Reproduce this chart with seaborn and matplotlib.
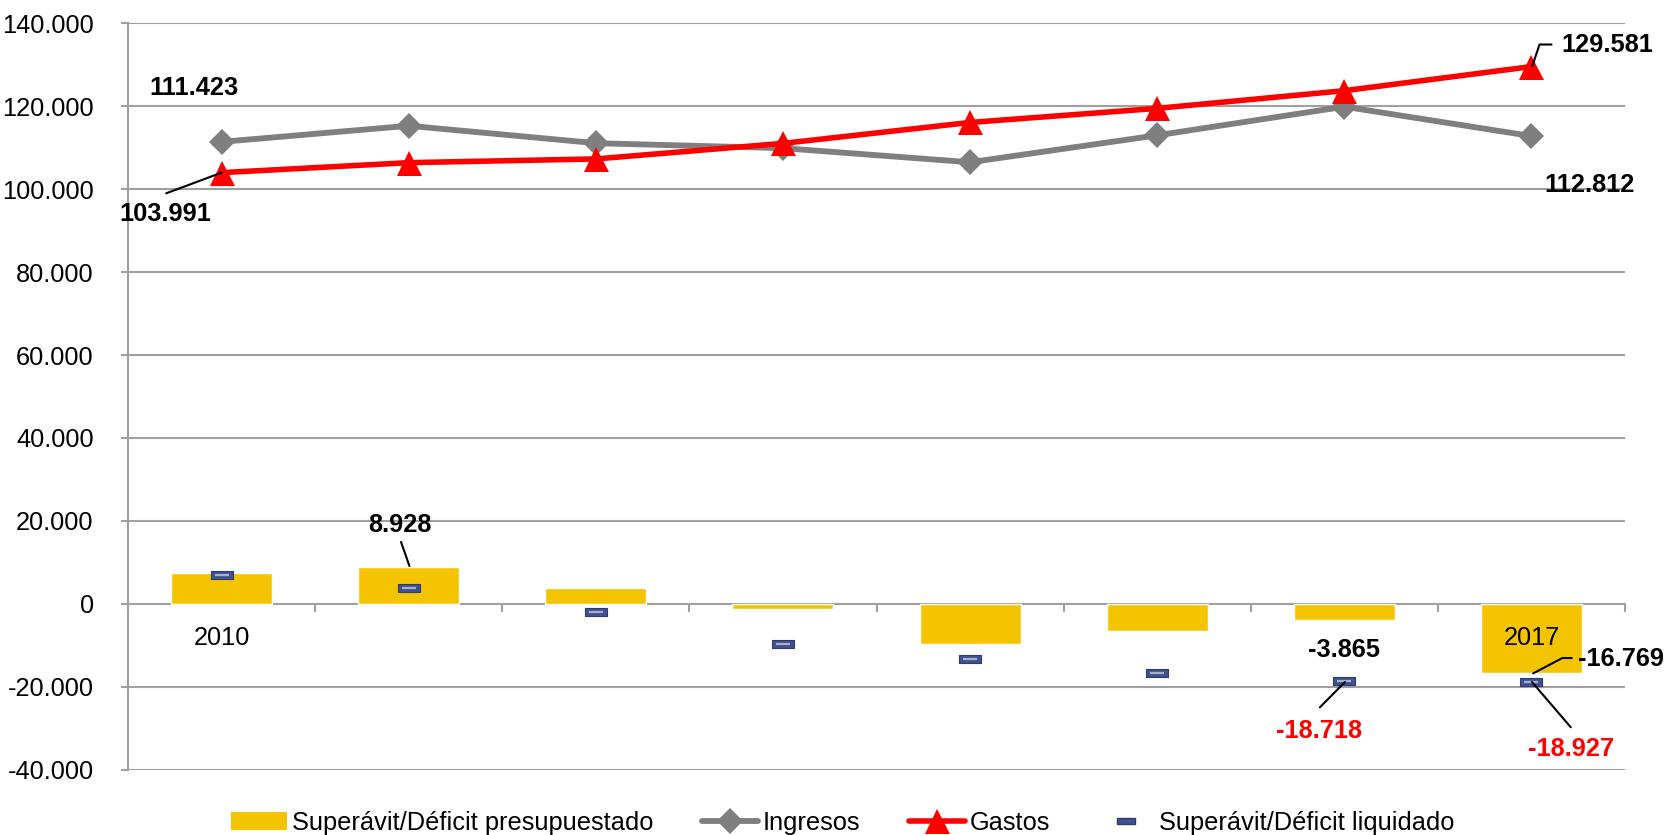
import numpy as np
import pandas as pd
import seaborn as sns
from matplotlib import pyplot as plt
from matplotlib.lines import Line2D
from matplotlib.patches import Patch
from matplotlib.ticker import FuncFormatter

# datos (miles de euros)
years = ['2010', '2011', '2012', '2013', '2014', '2015', '2016', '2017']
ingresos = [111423, 115300, 111100, 109900, 106500, 113000, 119900, 112812]
gastos = [103991, 106400, 107300, 111050, 116100, 119500, 123765, 129581]
presupuestado = [7432, 8928, 3800, -1250, -9600, -6500, -3865, -16769]
liquidado = [6900, 3800, -2000, -9700, -13400, -16600, -18718, -18927]

YELLOW = '#F5C400'
GREY = '#7F7F7F'
RED = '#FF0000'
BLUE = '#3F5190'
GRID = '#A0A0A0'
FS = 18.3

sns.set_theme(style='white')
plt.rcParams['font.family'] = ['Liberation Sans', 'DejaVu Sans']
plt.rcParams['text.color'] = 'black'

df = pd.DataFrame({'year': years, 'pos': np.arange(len(years)),
                   'ingresos': ingresos, 'gastos': gastos,
                   'presupuestado': presupuestado, 'liquidado': liquidado})

fig = plt.figure(figsize=(16.71, 8.35), dpi=100)
ax = fig.add_axes([0.0766, 0.0784, 0.8959, 0.8936])

for v in range(-40000, 140001, 20000):
    if v != 0:
        ax.axhline(v, color=GRID, lw=1.5, zorder=0)

sns.barplot(data=df, x='year', y='presupuestado', color=YELLOW, saturation=1,
            width=0.54, ax=ax, zorder=2)

sns.lineplot(data=df, x='pos', y='ingresos', color=GREY, lw=4.2, marker='D',
             markersize=13.5, markeredgewidth=0, ax=ax, zorder=4)
sns.lineplot(data=df, x='pos', y='gastos', color=RED, lw=4.0, marker='^',
             markersize=18, markeredgewidth=0, ax=ax, zorder=5)

rect = [(-1, -0.38), (1, -0.38), (1, 0.38), (-1, 0.38), (-1, -0.38)]
sns.scatterplot(data=df, x='pos', y='liquidado', marker=rect, s=240, color=BLUE,
                edgecolor='#2E3C70', linewidth=0.8, ax=ax, zorder=6)
sns.scatterplot(data=df, x='pos', y='liquidado', marker='_', s=110, color='#A9AFC4',
                linewidth=1.6, ax=ax, zorder=7)

ax.set_xlim(-0.5, 7.5)
ax.set_ylim(-40000, 140000)
ax.set_xlabel('')
ax.set_ylabel('')

ax.set_yticks(range(-40000, 140001, 20000))
ax.yaxis.set_major_formatter(FuncFormatter(lambda v, p: f'{int(v):,}'.replace(',', '.')))
ax.set_xticks(np.arange(-0.5, 7.6, 1))
ax.set_xticklabels([])
ax.tick_params(axis='y', labelsize=FS, labelcolor='black', length=4.7, width=1.5,
               color=GRID, pad=20, left=True)
ax.tick_params(axis='x', length=6, width=1.5, color=GRID, bottom=True, direction='out')

for s in ['top', 'right']:
    ax.spines[s].set_visible(False)
ax.spines['left'].set_color(GRID)
ax.spines['left'].set_linewidth(1.5)
ax.spines['bottom'].set_position(('data', 0))
ax.spines['bottom'].set_color(GRID)
ax.spines['bottom'].set_linewidth(1.5)
ax.spines['bottom'].set_zorder(1)

# etiquetas de años
ax.text(0, -8300, '2010', ha='center', va='center', fontsize=FS)
ax.text(7, -8300, '2017', ha='center', va='center', fontsize=FS)

bold = dict(fontsize=FS, fontweight='bold', va='center')
lead = dict(color='black', lw=1.5, zorder=8)

ax.text(-0.15, 124300, '111.423', ha='center', **bold)
ax.text(-0.30, 94000, '103.991', ha='center', **bold)
ax.plot([-0.296, 0.0], [99000, 104000], **lead)

ax.text(7.158, 134700, '129.581', ha='left', **bold)
ax.plot([7.004, 7.043, 7.107], [129700, 134900, 134900], **lead)
ax.text(7.31, 100900, '112.812', ha='center', **bold)

ax.text(0.954, 18900, '8.928', ha='center', **bold)
ax.plot([0.959, 1.004], [14900, 9100], **lead)

ax.text(6.0, -11100, '-3.865', ha='center', **bold)
ax.text(7.25, -13300, '-16.769', ha='left', **bold)
ax.plot([7.009, 7.165, 7.215], [-16800, -13100, -13100], **lead)

ax.text(5.863, -30700, '-18.718', ha='center', color=RED, **bold)
ax.plot([6.003, 5.869], [-18900, -25000], **lead)
ax.text(7.21, -35000, '-18.927', ha='center', color=RED, **bold)
ax.plot([7.003, 7.21], [-18900, -29800], **lead)

handles = [
    Patch(facecolor=YELLOW, edgecolor='none'),
    Line2D([], [], color=GREY, lw=4.2, marker='D', markersize=13.5, markeredgewidth=0),
    Line2D([], [], color=RED, lw=4.0, marker='^', markersize=18, markeredgewidth=0),
    Line2D([], [], ls='', marker=rect, markersize=13, color=BLUE, markeredgecolor='#2E3C70'),
]
labels = ['Superávit/Déficit presupuestado', 'Ingresos', 'Gastos', 'Superávit/Déficit liquidado']
fig.legend(handles, labels, loc='center', bbox_to_anchor=(0.5045, 0.0144), ncol=4,
           frameon=False, fontsize=FS, handlelength=2.2, handletextpad=0.2,
           columnspacing=1.9, borderaxespad=0, labelcolor='black')

fig.savefig('out.png', dpi=100)
